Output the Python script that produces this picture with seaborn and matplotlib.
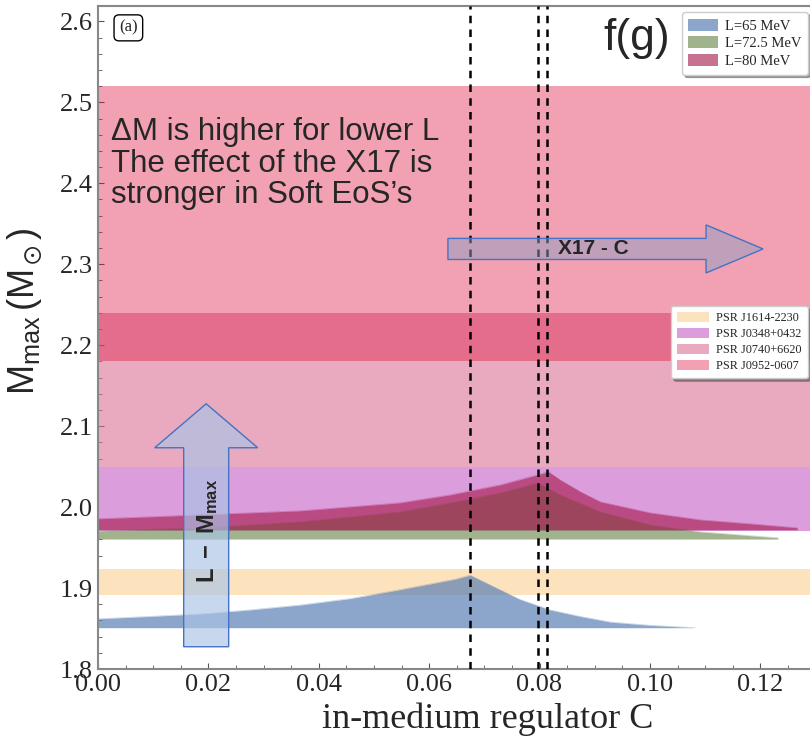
import numpy as np
import pandas as pd
import matplotlib
matplotlib.use("Agg")
import matplotlib.pyplot as plt
from matplotlib.patches import FancyArrow
from matplotlib.ticker import MultipleLocator, FormatStrFormatter
import seaborn as sns

# ---------------- data ----------------
blue_C = [0.0, 0.0094, 0.0185, 0.0275, 0.0366, 0.0457, 0.0547, 0.0601, 0.0647, 0.0674,
          0.0692, 0.0728, 0.0764, 0.0819, 0.0873, 0.0928, 0.1000, 0.1082]
blue_M = [1.862, 1.865, 1.868, 1.873, 1.879, 1.887, 1.898, 1.905, 1.911, 1.916,
          1.910, 1.898, 1.886, 1.873, 1.865, 1.858, 1.854, 1.851]
blue_base = 1.851

green_C = [0.0, 0.0185, 0.0366, 0.0547, 0.0638, 0.0729, 0.0797, 0.0837, 0.0910, 0.1000, 0.1091, 0.1232]
green_M = [1.9707, 1.9744, 1.9819, 1.9942, 2.0053, 2.0177, 2.0300, 2.0152, 1.9942, 1.9781, 1.9695, 1.9621]
green_base = 1.9605

pink_C = [0.0, 0.0094, 0.0366, 0.0547, 0.0638, 0.0729, 0.0783, 0.0816, 0.0837, 0.0874,
          0.0910, 0.1000, 0.1091, 0.1182, 0.1267]
pink_M = [1.9856, 1.9880, 1.9954, 2.0053, 2.0151, 2.0275, 2.0374, 2.0436, 2.0337, 2.0189,
          2.0065, 1.9930, 1.9843, 1.9794, 1.9744]
pink_base = 1.972

curve_labels = ["L=65 MeV", "L=72.5 MeV", "L=80 MeV"]

pulsar_names = ["PSR J1614-2230", "PSR J0348+0432", "PSR J0740+6620", "PSR J0952-0607"]
pulsar_low = [1.892, 1.97, 2.05, 2.18]
pulsar_high = [1.924, 2.05, 2.24, 2.52]

peak_C = [0.0674, 0.0797, 0.0814]

xticks = [0.00, 0.02, 0.04, 0.06, 0.08, 0.10, 0.12]
yticks = [1.8, 1.9, 2.0, 2.1, 2.2, 2.3, 2.4, 2.5, 2.6]

# ---------------- style ----------------
sns.set_theme(style="ticks")
plt.rcParams["font.family"] = ["Liberation Serif", "DejaVu Serif"]
plt.rcParams["mathtext.fontset"] = "custom"
plt.rcParams["mathtext.rm"] = "Liberation Sans"
plt.rcParams["mathtext.it"] = "Liberation Sans:italic"
plt.rcParams["mathtext.bf"] = "Liberation Sans:bold"

fig = plt.figure(figsize=(8.10, 7.37), dpi=100)
ax = fig.add_axes([98 / 810, 68 / 737, 712 / 810, 663 / 737])

# pulsar bands
band_cols = [("#fde2be", 1.0), ("#dc9ddc", 1.0), ("#db7093", 0.6), ("#dc143c", 0.4)]
band_handles = []
for name, lo, hi, (col, a) in zip(pulsar_names, pulsar_low, pulsar_high, band_cols):
    h = ax.axhspan(lo, hi, color=col, alpha=a, lw=0, zorder=1, label=name)
    band_handles.append(h)

# curves
curve_cols = [("#5b7fb5", 0.7), ("#6f8a4f", 0.65), ("#a21446", 0.6)]
curves = [(blue_C, blue_M, blue_base), (green_C, green_M, green_base), (pink_C, pink_M, pink_base)]
curve_handles = []
for (cx, cy, base), (col, a), lab in zip(curves, curve_cols, curve_labels):
    df = pd.DataFrame({"C": cx, "M": cy})
    h = ax.fill_between(df["C"], base, df["M"], color=col, alpha=a, lw=0, zorder=2, label=lab)
    sns.lineplot(data=df, x="C", y="M", ax=ax, color=col, alpha=a * 0.5, lw=0.5, zorder=2)
    curve_handles.append(h)

# dashed lines
for c in peak_C:
    ax.axvline(c, color="black", lw=1.8, dashes=(3, 2.5), zorder=3)

# arrows
varrow = FancyArrow(0.0196, 1.8275, 0, 0.3001, width=0.00815, head_width=0.01866,
                    head_length=0.0543, length_includes_head=True,
                    facecolor=(169 / 255, 196 / 255, 230 / 255, 0.65), edgecolor="#4472c4",
                    lw=1.0, zorder=4)
ax.add_patch(varrow)
harrow = FancyArrow(0.0634, 2.3189, 0.0571, 0, width=0.026, head_width=0.0593,
                    head_length=0.01033, length_includes_head=True,
                    facecolor=(142 / 255, 159 / 255, 193 / 255, 0.5), edgecolor="#4472c4",
                    lw=1.0, zorder=4)
ax.add_patch(harrow)

ax.text(0.0897, 2.3189, "X17 - C", ha="center", va="center", fontsize=15,
        fontweight="bold", family="Liberation Sans", zorder=5)
ax.text(0.0199, 1.97, r"$\mathbf{L\ -\ M_{max}}$", ha="center", va="center", fontsize=17,
        rotation=90, zorder=5)

ax.text(0.0023, 2.482, "ΔM is higher for lower L\nThe effect of the X17 is\nstronger in Soft EoS’s",
        ha="left", va="top", fontsize=22.5, family="Liberation Sans", linespacing=1.07, zorder=5)
ax.text(0.0915, 2.579, "f(g)", ha="left", va="center", fontsize=32, family="Liberation Sans", zorder=5)
ax.text(0.0055, 2.592, "(a)", ha="center", va="center", fontsize=12, zorder=5,
        bbox=dict(boxstyle="round,pad=0.3", fc="white", ec="black", lw=1))

# legends
leg1 = ax.legend(handles=curve_handles, labels=curve_labels, loc="upper right",
                 bbox_to_anchor=(0.997, 0.991), borderaxespad=0, fontsize=10.5,
                 frameon=True, fancybox=True, shadow=True, framealpha=1,
                 handlelength=2.0, handleheight=0.9, borderpad=0.45, labelspacing=0.25,
                 handletextpad=0.5)
leg1.get_frame().set_edgecolor("#cccccc")
ax.add_artist(leg1)
leg2 = ax.legend(handles=band_handles, labels=pulsar_names, loc="upper right",
                 bbox_to_anchor=(0.997, 0.5475), borderaxespad=0, fontsize=8.8,
                 frameon=True, fancybox=True, shadow=True, framealpha=1,
                 handlelength=2.6, handleheight=0.9, borderpad=0.5, labelspacing=0.3,
                 handletextpad=0.6)
leg2.get_frame().set_edgecolor("#cccccc")

# axes
ax.set_xlim(0, 0.129)
ax.set_ylim(1.8, 2.619)
ax.set_xticks(xticks)
ax.set_yticks(yticks)
ax.xaxis.set_major_formatter(FormatStrFormatter("%.2f"))
ax.yaxis.set_major_formatter(FormatStrFormatter("%.1f"))
ax.xaxis.set_minor_locator(MultipleLocator(0.005))
ax.yaxis.set_minor_locator(MultipleLocator(0.02))
ax.tick_params(which="both", direction="in", color="#555555", labelsize=19)
ax.tick_params(which="major", length=4, width=0.8)
ax.tick_params(which="minor", length=3, width=0.6)
for s in ["left", "bottom", "top"]:
    ax.spines[s].set_color("#888888")
    ax.spines[s].set_linewidth(1.5)
ax.spines["right"].set_visible(False)
ax.set_xlabel("in-medium regulator C", fontsize=26)
ax.xaxis.set_label_coords(0.548, -0.05)
ax.set_ylabel(r"$\mathregular{M_{max}\,(M_\odot)}$", fontsize=26, family="Liberation Sans")
ax.yaxis.set_label_coords(-0.076, 0.54)

fig.savefig("out.png", dpi=100)
